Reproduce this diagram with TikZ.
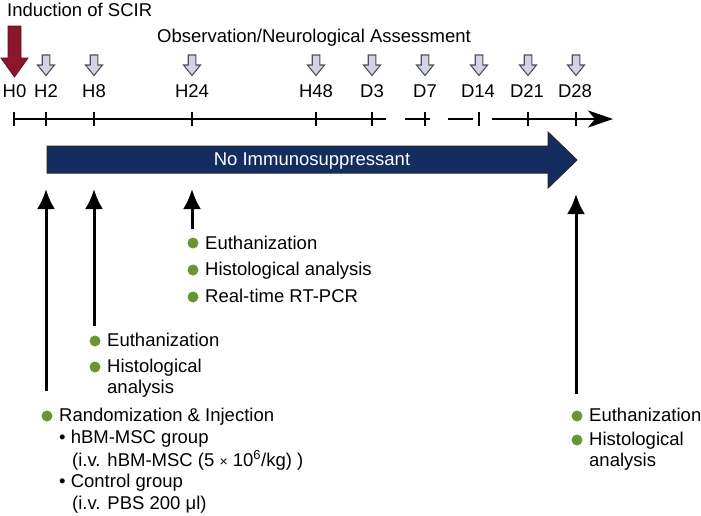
\documentclass[tikz,border=0pt]{standalone}
\usepackage{fontspec}
\setmainfont{Liberation Sans}
\usetikzlibrary{arrows.meta}
\definecolor{navy}{RGB}{20,45,96}
\definecolor{darkred}{RGB}{140,22,45}
\definecolor{bgreen}{RGB}{108,148,48}
\definecolor{pale}{RGB}{208,212,230}
\definecolor{edgegray}{RGB}{80,80,80}
\tikzset{
  txt/.style={anchor=base west,inner sep=0pt,font=\fontsize{18.5}{21}\selectfont},
  lab/.style={anchor=base,inner sep=0pt,font=\fontsize{18.5}{21}\selectfont},
  axis/.style={line width=2.9pt},
  tick/.style={line width=2.9pt},
  uparrow/.style={line width=3pt,-{Latex[length=20pt,width=18pt]}},
  gdot/.style={fill=bgreen},
  smallarrow/.style={fill=pale,draw=edgegray,line width=1.1pt},
}
\begin{document}
\begin{tikzpicture}[x=1pt,y=-1pt]
\useasboundingbox (0,0) rectangle (701,515);
% titles
\node[txt] (ind) at (7,16) {Induction of SCIR};
\node[txt] (obs) at (157,42) {Observation/Neurological Assessment};
% red arrow
\draw[fill=darkred,draw=darkred!70!black,line width=0.8pt]
  (8,26) -- (21,26) -- (21,58) -- (28,58) -- (14.5,77) -- (1,58) -- (8,58) -- cycle;
% small gray arrows
\foreach \xx in {46,94,192,316,372,425,479,528,576}{
  \draw[smallarrow] (\xx-3.8,55) -- (\xx+3.8,55) -- (\xx+3.8,65) -- (\xx+8.5,65) -- (\xx,75.5) -- (\xx-8.5,65) -- (\xx-3.8,65) -- cycle;
}
% time labels
\node[lab] (lH0) at (14.5,97) {H0};
\node[lab] (lH2) at (46,97) {H2};
\node[lab] (lH8) at (94,97) {H8};
\node[lab] (lH24) at (192,97) {H24};
\node[lab] (lH48) at (316,97) {H48};
\node[lab] (lD3) at (372,97) {D3};
\node[lab] (lD7) at (425,97) {D7};
\node[lab] (lD14) at (478,97) {D14};
\node[lab] (lD21) at (527,97) {D21};
\node[lab] (lD28) at (575,97) {D28};
% timeline
\coordinate (a0) at (14,119);
\coordinate (a1) at (386,119);
\coordinate (b0) at (405,119);
\coordinate (b1) at (430,119);
\coordinate (c0) at (448,119);
\coordinate (c1) at (473,119);
\coordinate (d0) at (492,119);
\coordinate (d1) at (613,119);
\draw[axis] (a0) -- (a1);
\draw[axis] (b0) -- (b1);
\draw[axis] (c0) -- (c1);
\draw[axis,-{Stealth[length=25pt,width=17pt,inset=7pt]}] (d0) -- (d1);
\foreach \xx in {14,46,94,192,316,372,425,479,528,576}{
  \draw[tick] (\xx,112) -- (\xx,126);
}
% blue arrow
\draw[fill=navy,draw=black!85,line width=1pt]
  (47,146) -- (548,146) -- (548,132) -- (577,160) -- (548,188) -- (548,173) -- (47,173) -- cycle;
\node[lab,text=white] (noimm) at (312,165) {No Immunosuppressant};
% up arrows
\coordinate (t1) at (46,189);
\coordinate (t2) at (94,189);
\coordinate (t3) at (192,189);
\coordinate (t4) at (576,194);
\coordinate (s1) at (46,391);
\coordinate (s2) at (94,326);
\coordinate (s3) at (192,229);
\coordinate (s4) at (576,394);
\draw[uparrow] (s1) -- (t1);
\draw[uparrow] (s2) -- (t2);
\draw[uparrow] (s3) -- (t3);
\draw[uparrow] (s4) -- (t4);
% H24 group
\fill[gdot] (193,243) circle (5.5);
\fill[gdot] (193,270) circle (5.5);
\fill[gdot] (193,297) circle (5.5);
\node[txt] (e24) at (205,249) {Euthanization};
\node[txt] (h24) at (205,275) {Histological analysis};
\node[txt] (r24) at (205,302) {Real-time RT-PCR};
% H8 group
\fill[gdot] (95,341) circle (5.5);
\fill[gdot] (95,367) circle (5.5);
\node[txt] (e8) at (107,346) {Euthanization};
\node[txt] (h8) at (107,372) {Histological};
\node[txt] (a8) at (107,393) {analysis};
% H0 group
\fill[gdot] (47,416) circle (5.5);
\node[txt] (rand) at (59,421) {Randomization \& Injection};
\node[txt] (g1) at (59,443) {\textbullet\ hBM-MSC group};
\node[txt] (g1b) at (72,466) {(i.v. hBM-MSC (5 {\fontsize{14}{16}\selectfont ×} 10\textsuperscript{6}/kg) )};
\node[txt] (g2) at (59,487) {\textbullet\ Control group};
\node[txt] (g2b) at (72,509) {(i.v. PBS 200 μl)};
% D28 group
\fill[gdot] (577,416) circle (5.5);
\fill[gdot] (577,440) circle (5.5);
\node[txt] (e28) at (589,421) {Euthanization};
\node[txt] (h28) at (589,445) {Histological};
\node[txt] (a28) at (589,466) {analysis};
\end{tikzpicture}
\end{document}
